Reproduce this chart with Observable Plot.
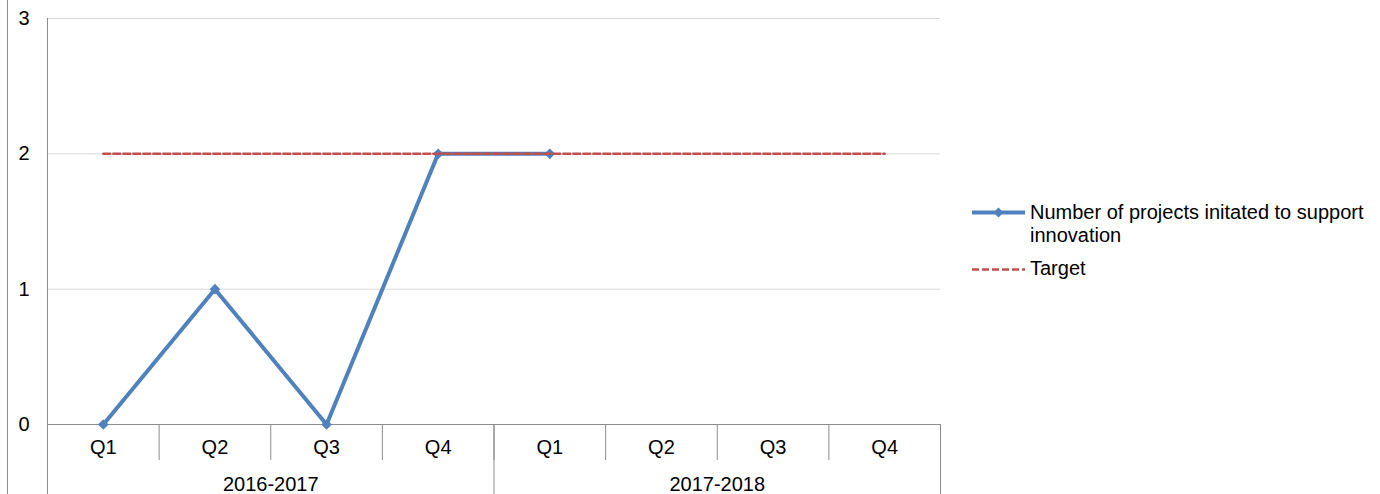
<!DOCTYPE html>
<html>
<head>
<meta charset="utf-8">
<script src="https://cdn.jsdelivr.net/npm/d3@7"></script>
<script src="https://cdn.jsdelivr.net/npm/@observablehq/plot@0.6"></script>
<style>
  body { margin: 0; background: #fff; font-family: "Liberation Sans", Arial, sans-serif; }
  #wrap { position: relative; width: 1380px; height: 494px; overflow: hidden; }
  #frame { position: absolute; left: 7px; top: 0; width: 1px; height: 494px; background: #8c8c8c; }
  .item { position: absolute; left: 972px; font-size: 20px; line-height: 23.5px; color: #000; }
  .item svg { position: absolute; left: 0; }
  .item .label { position: absolute; left: 58px; top: 0; width: 345px; }
</style>
</head>
<body>
<div id="wrap">
  <div id="frame"></div>
  <div id="chart"></div>
  <div id="legend"></div>
</div>
<script>
// Quarterly categories, grouped by financial year
const quarters = ["Q1", "Q2", "Q3", "Q4", "Q1", "Q2", "Q3", "Q4"];
const years = ["2016-2017", "2017-2018"];

// Series values (null = not yet reported)
const projects = [0, 1, 0, 2, 2, null, null, null];
const target = [2, 2, 2, 2, 2, 2, 2, 2];

const yTicks = [0, 1, 2, 3];
const seriesNames = ["Number of projects initated to support innovation", "Target"];
const colors = ["#4F81BD", "#C0504D"];

const perYear = quarters.length / years.length;
const idx = d3.range(quarters.length);
const rows = idx.map(i => ({i, quarter: quarters[i], projects: projects[i], target: target[i]}));
const actual = rows.filter(d => d.projects != null);

// category separators: between every quarter, and longer ones between years
const quarterBounds = d3.range(quarters.length + 1).map(i => i - 0.5);
const yearBounds = d3.range(years.length + 1).map(k => k * perYear - 0.5);
const yearCenters = years.map((_, k) => k * perYear + (perYear - 1) / 2);

const axisGray = "#8c8c8c";

const chart = Plot.plot({
  width: 1380,
  height: 494,
  marginLeft: 47,
  marginRight: 440,
  marginTop: 18,
  marginBottom: 70,
  style: {
    fontFamily: "Liberation Sans, Arial, sans-serif",
    fontSize: "20px",
    color: "#000",
    background: "transparent",
    overflow: "visible"
  },
  x: {type: "linear", domain: [-0.5, quarters.length - 0.5], label: null},
  y: {domain: [0, 3], label: null},
  marks: [
    Plot.ruleY(yTicks.filter(t => t > 0), {stroke: "#d9d9d9", strokeWidth: 1}),
    Plot.ruleY([0], {stroke: axisGray, strokeWidth: 1}),
    Plot.ruleX([-0.5], {stroke: axisGray, strokeWidth: 1, insetBottom: -70}),
    Plot.axisY({ticks: yTicks, tickSize: 0, tickPadding: 18, tickFormat: d => String(d), label: null, fontSize: 20}),
    Plot.axisX({ticks: quarterBounds, tickSize: 36, tickFormat: () => "", stroke: axisGray, label: null}),
    Plot.axisX({ticks: yearBounds, tickSize: 70, tickFormat: () => "", stroke: axisGray, label: null}),
    Plot.axisX({ticks: idx, tickSize: 0, tickPadding: 15, tickFormat: i => quarters[i], label: null, fontSize: 20}),
    Plot.axisX({ticks: yearCenters, tickSize: 0, tickPadding: 52.5, fontSize: 20,
      tickFormat: c => years[Math.round((c - (perYear - 1) / 2) / perYear)], label: null}),
    Plot.line(actual, {x: "i", y: "projects", stroke: colors[0], strokeWidth: 4, strokeLinejoin: "round"}),
    Plot.dot(actual, {x: "i", y: "projects", symbol: "diamond2", r: 4.8, fill: colors[0], stroke: "none"}),
    Plot.line(rows, {x: "i", y: "target", stroke: colors[1], strokeWidth: 2.5, strokeDasharray: "7,3"})
  ]
});
document.getElementById("chart").append(chart);

// Legend at the right of the plot
const legend = document.getElementById("legend");
const tops = [200.5, 256.5];
const swatchTops = [5.5, 6.5];
seriesNames.forEach((name, k) => {
  const item = document.createElement("div");
  item.className = "item";
  item.style.top = tops[k] + "px";
  const swatch = k === 0
    ? `<line x1="0" x2="53" y1="6.5" y2="6.5" stroke="${colors[0]}" stroke-width="4"/>
       <path d="M26.5,1.5 L31.5,6.5 L26.5,11.5 L21.5,6.5Z" fill="${colors[0]}"/>`
    : `<line x1="0" x2="53" y1="6.5" y2="6.5" stroke="${colors[1]}" stroke-width="2.5" stroke-dasharray="7,3"/>`;
  item.innerHTML = `<svg width="53" height="13" style="top:${swatchTops[k]}px">${swatch}</svg><div class="label"></div>`;
  item.querySelector(".label").textContent = name;
  legend.append(item);
});
</script>
</body>
</html>
